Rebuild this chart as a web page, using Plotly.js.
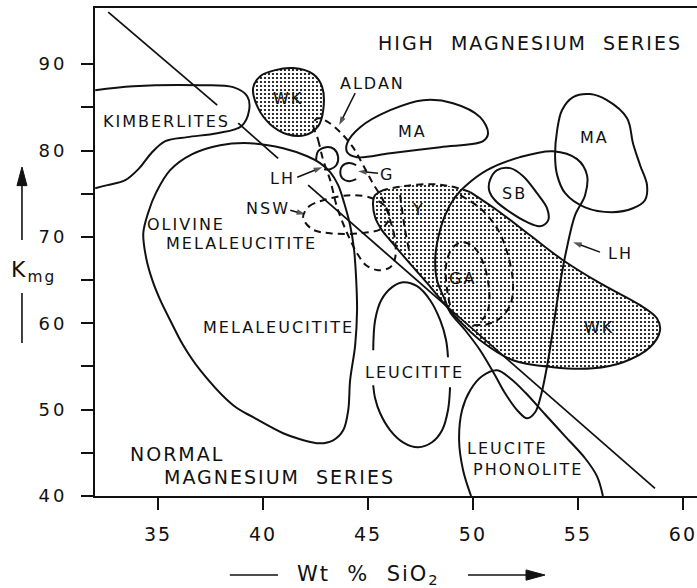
<!DOCTYPE html>
<html>
<head>
<meta charset="utf-8">
<script src="https://cdn.plot.ly/plotly-3.0.1.min.js"></script>
<style>
  html, body { margin: 0; padding: 0; background: #fff; }
  #chart { width: 697px; height: 588px; }
  .annotation-text { letter-spacing: 2px; }
  .ytick text { letter-spacing: 3px; }
</style>
</head>
<body>
<div id="chart"></div>
<script>
// Kmg versus wt% SiO2 fields for potassic and ultrapotassic rock suites.

// Straight dividing line between high- and normal-magnesium series (broken at labels)
const dividerX = [32.63, 37.82, null, 38.82, 40.72, null, 42.15, 58.67];
const dividerY = [96.02, 85.25, null, 83.17, 79.09, null, 75.99, 40.89];

// Kimberlites (open toward low SiO2)
const kimberliteX = [32.01, 33.82, 37.01, 38.58, 39.25, 39.34, 38.97, 37.82, 36.39, 35.35, 34.68, 34.11, 33.44, 32.59, 32.01];
const kimberliteY = [86.99, 87.45, 87.57, 87.34, 86.29, 84.67, 82.82, 82.01, 81.55, 81.08, 79.69, 77.96, 76.57, 75.99, 75.64];

// West Kimberley, high-Mg field (stippled)
const wkUpperX = [39.53, 39.87, 40.58, 41.44, 42.39, 42.82, 42.87, 42.63, 42.01, 41.15, 40.34, 39.77, 39.53];
const wkUpperY = [87.22, 88.61, 89.31, 89.54, 88.84, 87.34, 84.67, 82.82, 81.78, 81.89, 83.05, 84.90, 87.22];

// Mediterranean fields
const maUpperX = [44.01, 44.63, 46.06, 47.63, 49.05, 50.34, 50.72, 50.48, 48.44, 46.06, 44.48, 44.01, 44.01];
const maUpperY = [80.85, 82.70, 84.67, 85.83, 85.48, 83.86, 82.01, 81.08, 80.39, 79.69, 79.23, 79.81, 80.85];
const maRightX = [54.01, 54.24, 54.77, 55.57, 56.38, 57.34, 57.62, 57.96, 58.29, 58.19, 57.62, 56.62, 55.34, 54.39, 54.01, 53.91, 54.01];
const maRightY = [82.36, 84.67, 86.18, 86.53, 85.83, 83.74, 80.85, 78.30, 75.99, 74.24, 73.31, 72.86, 73.42, 75.06, 77.15, 79.46, 82.36];

// Smoky Butte
const sbX = [50.81, 51.15, 51.77, 52.39, 53.05, 53.53, 53.58, 53.19, 52.58, 51.77, 51.05, 50.77, 50.81];
const sbY = [76.57, 77.73, 77.96, 77.03, 75.06, 73.31, 71.92, 71.24, 71.70, 72.86, 74.24, 75.41, 76.57];

// Leucite Hills, large field
const lhX = [48.91, 48.67, 48.29, 48.20, 48.29, 48.67, 49.15, 49.63, 50.67, 52.24, 53.81, 54.96, 55.43, 55.34, 54.86, 54.48, 54.15, 53.91, 53.58, 53.24, 52.96, 52.58, 52.15, 51.53, 51.05, 50.34, 49.63, 48.91];
const lhY = [61.28, 62.67, 64.99, 67.07, 69.27, 72.50, 74.60, 75.87, 77.73, 79.23, 79.92, 79.00, 77.15, 74.83, 72.50, 68.81, 64.64, 60.93, 55.72, 51.66, 49.70, 49.00, 49.81, 51.90, 53.98, 56.88, 59.19, 61.28];

// Leucite Hills, small field
const lhSmallX = [42.53, 42.63, 43.01, 43.39, 43.58, 43.49, 43.20, 42.91];
const lhSmallY = [78.88, 79.92, 80.39, 80.16, 79.23, 78.30, 77.84, 77.84];

// Gaussberg
const gX = [44.44, 44.10, 43.77, 43.68, 43.77, 44.10, 44.44];
const gY = [78.30, 78.54, 78.19, 77.49, 76.80, 76.45, 76.68];

// Y + West Kimberley low-Mg stippled field
const stipX = [45.25, 45.34, 45.67, 46.06, 46.86, 47.82, 48.77, 49.24, 50.34, 51.91, 53.81, 55.72, 57.15, 58.43, 58.91, 58.76, 57.96, 56.05, 54.29, 52.72, 51.15, 49.87, 48.91, 47.96, 46.67, 45.72, 45.34, 45.25];
const stipY = [74.24, 72.27, 70.76, 69.61, 67.30, 64.64, 61.86, 60.58, 58.04, 55.72, 54.91, 54.79, 55.49, 57.22, 59.19, 60.58, 62.09, 64.64, 67.30, 70.19, 73.08, 75.18, 75.87, 76.10, 75.87, 75.41, 74.83, 74.24];

// Olivine melaleucitite / melaleucitite
const melaX = [34.30, 34.44, 34.73, 35.11, 35.58, 36.20, 37.01, 38.58, 39.53, 40.96, 41.77, 42.72, 43.34, 43.82, 44.06, 44.15, 44.39, 44.48, 44.44, 44.34, 44.15, 43.87, 43.58, 43.20, 42.72, 42.11, 40.96, 39.39, 37.96, 36.63, 35.58, 34.92, 34.54, 34.30];
const melaY = [70.42, 67.53, 64.99, 62.67, 60.35, 57.45, 54.56, 50.50, 49.12, 47.26, 46.57, 46.10, 46.45, 47.61, 49.93, 53.40, 57.45, 61.51, 64.99, 68.46, 71.34, 73.89, 75.99, 77.49, 78.54, 79.34, 80.27, 80.85, 80.62, 79.58, 77.73, 75.18, 72.86, 70.42];

// Leucitite (broken at its label)
const leucititeX = [45.25, 45.34, 45.63, 46.15, 46.67, 47.34, 47.96, 48.44, 48.72, 48.81, null, 48.91, 48.81, 48.53, 48.05, 47.39, 46.67, 46.06, 45.58, 45.34, 45.25];
const leucititeY = [56.88, 60.35, 62.67, 64.18, 64.75, 64.29, 62.67, 60.35, 58.04, 56.07, null, 52.59, 49.93, 47.61, 46.22, 45.64, 46.22, 47.61, 49.58, 51.32, 52.82];

// Leucite phonolite
const phonoliteX = [49.91, 49.53, 49.34, 49.48, 49.87, 50.43, 51.15, 51.77, 52.48, 53.43, 54.39, 55.34, 55.91, 56.19];
const phonoliteY = [40.00, 42.98, 46.45, 49.93, 52.25, 53.86, 54.56, 53.63, 52.01, 49.47, 46.91, 44.37, 42.28, 40.00];

// Dashed fields: Aldan, New South Wales, GA, inner Y traces
const aldanX = [42.39, 42.63, 42.87, 43.20, 43.53, 44.01, 44.48, 44.91, 45.48, 46.06, 46.29, 46.29, 46.06, 45.72, 45.20, 44.72, 44.25, 43.68, 43.10, 42.63, 42.39];
const aldanY = [83.17, 81.20, 78.88, 76.57, 73.42, 70.42, 68.11, 66.72, 66.15, 66.49, 67.53, 69.61, 71.92, 74.24, 76.34, 78.54, 80.50, 82.12, 83.28, 83.74, 83.17];
const nswX = [41.91, 42.20, 42.87, 44.15, 45.20, 45.82, 46.01, 45.67, 44.63, 43.20, 42.34, 41.91];
const nswY = [72.27, 73.54, 74.24, 74.83, 74.48, 73.54, 72.27, 70.99, 70.42, 70.42, 70.89, 72.27];
const gaInnerX = [48.91, 48.77, 48.72, 49.01, 49.48, 50.05, 50.53, 50.77, 50.72, 50.43];
const gaInnerY = [62.09, 63.83, 66.72, 68.69, 69.38, 68.81, 66.72, 63.83, 61.51, 60.35];
const gaOuterX = [49.39, 50.34, 51.15, 51.67, 51.91, 51.77, 51.29, 50.67, 49.96];
const gaOuterY = [74.83, 73.31, 70.99, 67.88, 64.40, 62.09, 60.58, 59.89, 59.77];
const yInnerX = [46.53, 46.77, 47.01];
const yInnerY = [74.83, 70.76, 67.88];

// Field labels: [text, SiO2, Kmg, size]
const labels = [
  ['HIGH\u00A0\u00A0MAGNESIUM\u00A0\u00A0SERIES', 52.72, 92.42, 19],
  ['KIMBERLITES', 35.39, 83.40, 16],
  ['WK', 41.20, 86.06, 16],
  ['ALDAN', 45.20, 87.80, 16],
  ['MA', 47.10, 82.24, 16],
  ['MA', 55.77, 81.55, 16],
  ['SB', 51.96, 75.06, 16],
  ['LH', 40.91, 76.80, 16],
  ['G', 45.91, 77.26, 16],
  ['NSW', 40.25, 73.31, 16],
  ['OLIVINE', 36.35, 71.47, 16],
  ['MELALEUCITITE', 38.97, 69.27, 16],
  ['Y', 47.39, 73.21, 16],
  ['GA', 49.48, 65.21, 16],
  ['LH', 57.05, 68.11, 16],
  ['WK', 56.00, 59.53, 16],
  ['MELALEUCITITE', 40.73, 59.54, 16],
  ['LEUCITITE', 47.20, 54.33, 16],
  ['LEUCITE', 51.63, 45.52, 16],
  ['PHONOLITE', 52.62, 43.09, 16],
  ['NORMAL', 35.92, 44.83, 19],
  ['MAGNESIUM\u00A0\u00A0SERIES', 40.80, 42.17, 19]
];

// Pointer arrows from labels to small fields: tail then head
const pointerTailX = [44.39, 41.63, 45.48, 41.30, 56.05];
const pointerTailY = [86.64, 76.91, 77.38, 73.08, 68.23];
const pointerHeadX = [43.63, 42.82, 44.53, 42.01, 54.77];
const pointerHeadY = [82.94, 78.07, 77.61, 72.62, 69.38];

const xTicks = [35, 40, 45, 50, 55, 60];
const yTicks = [40, 50, 60, 70, 80, 90];
const yMinorTicks = [45, 55, 65, 75, 85];

const FONT = 'DejaVu Sans, Arial, sans-serif';
const INK = '#111';

function solid(x, y, w) {
  return { x: x, y: y, mode: 'lines', hoverinfo: 'skip',
    line: { color: INK, width: w || 2, shape: 'spline', smoothing: 1 } };
}
function dashed(x, y) {
  return { x: x, y: y, mode: 'lines', hoverinfo: 'skip',
    line: { color: INK, width: 2, shape: 'spline', smoothing: 1, dash: '7px,5px' } };
}
function stippled(x, y) {
  return { x: x, y: y, mode: 'lines', fill: 'toself', hoverinfo: 'skip',
    fillcolor: 'rgba(0,0,0,0)',
    fillpattern: { shape: '.', size: 4, solidity: 0.24, fgcolor: '#000', bgcolor: '#fff' },
    line: { color: 'rgba(0,0,0,0)', width: 0, shape: 'spline', smoothing: 1 } };
}
function pointer(i) {
  return { x: [pointerTailX[i], pointerHeadX[i]], y: [pointerTailY[i], pointerHeadY[i]],
    mode: 'lines+markers', hoverinfo: 'skip', cliponaxis: false,
    line: { color: INK, width: 1.5 },
    marker: { symbol: 'arrow', angleref: 'previous', size: [0, 9], color: INK, line: { width: 0 } } };
}

// Solid outline of the low-Mg stippled field, and its dashed top edge
const stipSolidX = stipX.slice(25, 27).concat(stipX.slice(0, 22));
const stipSolidY = stipY.slice(25, 27).concat(stipY.slice(0, 22));
const stipTopX = stipX.slice(21, 26);
const stipTopY = stipY.slice(21, 26);

const traces = [
  stippled(wkUpperX, wkUpperY),
  stippled(stipX, stipY),
  solid(wkUpperX, wkUpperY),
  solid(stipSolidX, stipSolidY),
  dashed(stipTopX, stipTopY),
  { x: dividerX, y: dividerY, mode: 'lines', hoverinfo: 'skip', line: { color: INK, width: 1.8 } },
  solid(kimberliteX, kimberliteY),
  solid(maUpperX, maUpperY),
  solid(maRightX, maRightY),
  solid(sbX, sbY),
  solid(lhX, lhY),
  solid(lhSmallX, lhSmallY),
  solid(gX, gY),
  solid(melaX, melaY),
  solid(leucititeX, leucititeY),
  solid(phonoliteX, phonoliteY),
  dashed(aldanX, aldanY),
  dashed(nswX, nswY),
  dashed(gaInnerX, gaInnerY),
  dashed(gaOuterX, gaOuterY),
  dashed(yInnerX, yInnerY)
];
for (let i = 0; i < pointerTailX.length; i++) traces.push(pointer(i));

const annotations = labels.map(function (l) {
  return { x: l[1], y: l[2], xref: 'x', yref: 'y', text: l[0], showarrow: false,
    xanchor: 'center', yanchor: 'middle', font: { family: FONT, size: l[3], color: INK } };
});

// Axis titles
annotations.push({ xref: 'paper', yref: 'paper', x: 0.4535, y: -0.162, xanchor: 'center', yanchor: 'middle',
  text: 'Wt\u00A0\u00A0%\u00A0\u00A0SiO<sub>2</sub>', showarrow: false, font: { family: FONT, size: 21, color: INK } });
annotations.push({ xref: 'paper', yref: 'paper', x: -0.143, y: 0.46, xanchor: 'left', yanchor: 'middle',
  text: 'K<sub>mg</sub>', showarrow: false, font: { family: FONT, size: 22, color: INK } });

// Rules and arrows that accompany the axis titles
const shapes = [
  { type: 'line', xref: 'paper', yref: 'paper', x0: 0.224, x1: 0.304, y0: -0.162, y1: -0.162,
    line: { color: INK, width: 1.6 } },
  { type: 'line', xref: 'paper', yref: 'paper', x0: 0.6196, x1: 0.7226, y0: -0.162, y1: -0.162,
    line: { color: INK, width: 1.6 } },
  { type: 'path', xref: 'paper', yref: 'paper', path: 'M 0.7475 -0.162 L 0.7160 -0.1515 L 0.7160 -0.1725 Z',
    fillcolor: INK, line: { color: INK, width: 1 } },
  { type: 'line', xref: 'paper', yref: 'paper', x0: -0.1213, x1: -0.1213, y0: 0.5246, y1: 0.645,
    line: { color: INK, width: 1.6 } },
  { type: 'path', xref: 'paper', yref: 'paper', path: 'M -0.1213 0.6742 L -0.1296 0.6360 L -0.1130 0.6360 Z',
    fillcolor: INK, line: { color: INK, width: 1 } },
  { type: 'line', xref: 'paper', yref: 'paper', x0: -0.1213, x1: -0.1213, y0: 0.416, y1: 0.3135,
    line: { color: INK, width: 1.6 } }
];

const layout = {
  width: 697, height: 588,
  margin: { l: 95, r: 0, t: 8, b: 92 },
  paper_bgcolor: '#fff', plot_bgcolor: '#fff',
  showlegend: false,
  font: { family: FONT, color: INK },
  xaxis: {
    range: [32, 60.67], tickvals: xTicks, ticks: 'outside', ticklen: 12, tickwidth: 2, tickcolor: INK,
    showline: true, linewidth: 2, linecolor: INK, mirror: true, showgrid: false, zeroline: false,
    tickfont: { family: FONT, size: 19, color: INK }, ticklabelstandoff: 8,
    ticklabeloverflow: 'allow', fixedrange: true
  },
  yaxis: {
    range: [40, 96.5], tickvals: yTicks, ticks: 'outside', ticklen: 12, tickwidth: 2,
    tickcolor: INK, showline: true, linewidth: 2, linecolor: INK, showgrid: false, zeroline: false,
    minor: { tickvals: yMinorTicks, ticks: 'outside', ticklen: 12, tickwidth: 2, tickcolor: INK, showgrid: false },
    tickfont: { family: FONT, size: 18, color: INK }, ticklabelstandoff: 10, fixedrange: true
  },
  annotations: annotations,
  shapes: shapes
};

Plotly.newPlot('chart', traces, layout, { displayModeBar: false, staticPlot: true }).then(function (gd) {
  // widen the x tick numerals once laid out, so the edge label is not dropped
  gd.querySelectorAll('.xtick text').forEach(function (t) { t.style.letterSpacing = '2px'; });
});
</script>
</body>
</html>
